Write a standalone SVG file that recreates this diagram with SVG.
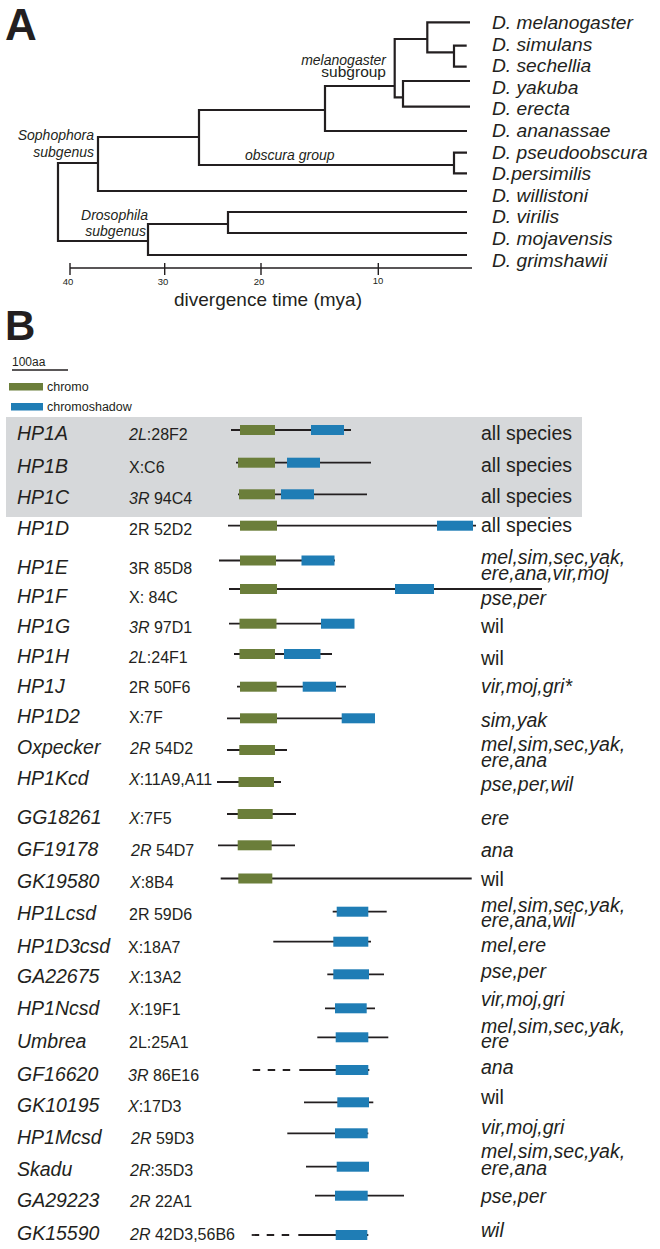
<svg xmlns="http://www.w3.org/2000/svg" width="660" height="1249" viewBox="0 0 660 1249">
<style>
.t{font-family:"Liberation Sans",Arial,sans-serif;fill:#231f20}
.i{font-style:italic}
.big{font-size:44px;font-weight:bold}
.sp{font-size:19.2px;font-style:italic}
.cl{font-size:14px;font-style:italic}
.tk{font-size:9.5px}
.gn{font-size:19.5px;font-style:italic}
.loc{font-size:16px}
.spc{font-size:19.5px}
.spi{font-size:19.5px;font-style:italic}
.tree{stroke:#231f20;stroke-width:2.2;fill:none}
.ln{stroke:#231f20;stroke-width:1.8;fill:none}
.dash{stroke:#231f20;stroke-width:1.8;fill:none;stroke-dasharray:7.5 7.5}
.g{fill:#6b7e3a}
.b{fill:#1f7db5}
</style>
<rect width="660" height="1249" fill="#ffffff"/>

<!-- Panel A -->
<text class="t big" x="5" y="40">A</text>
<g id="tree-connectors">
<path class="tree" d="M98 163H58V241H148"/>
<path class="tree" d="M199 137H98V191H467"/>
<path class="tree" d="M325 110H199V165H454"/>
<path class="tree" d="M394.7 86H325V131H467"/>
<path class="tree" d="M427.3 39H394.7V97.3H403"/>
<path class="tree" d="M470 22.3H427.3V52.3H454"/>
<path class="tree" d="M466.7 45.7H454V66.7H466.7"/>
<path class="tree" d="M470 81H403V106.7H470"/>
<path class="tree" d="M467 152.7H454V173.3H467"/>
<path class="tree" d="M228 224H148V255H467"/>
<path class="tree" d="M467 212H228V233H467"/>
</g>
<g id="tree-labels">
<text class="t cl" x="386" y="65" text-anchor="end">melanogaster</text>
<text class="t" x="386" y="77" text-anchor="end" style="font-size:15.5px">subgroup</text>
<text class="t cl" x="94" y="140" text-anchor="end">Sophophora</text>
<text class="t cl" x="94" y="157" text-anchor="end">subgenus</text>
<text class="t cl" x="245" y="160">obscura group</text>
<text class="t cl" x="148" y="220" text-anchor="end">Drosophila</text>
<text class="t cl" x="146" y="236" text-anchor="end">subgenus</text>
</g>
<g id="species">
<text class="t sp" x="492" y="29">D. melanogaster</text>
<text class="t sp" x="492" y="50.6">D. simulans</text>
<text class="t sp" x="492" y="72.2">D. sechellia</text>
<text class="t sp" x="492" y="93.8">D. yakuba</text>
<text class="t sp" x="492" y="115.4">D. erecta</text>
<text class="t sp" x="492" y="137">D. ananassae</text>
<text class="t sp" x="492" y="158.6">D. pseudoobscura</text>
<text class="t sp" x="492" y="180.2">D.persimilis</text>
<text class="t sp" x="492" y="201.8">D. willistoni</text>
<text class="t sp" x="492" y="223.4">D. virilis</text>
<text class="t sp" x="492" y="245">D. mojavensis</text>
<text class="t sp" x="492" y="266.6">D. grimshawii</text>
</g>
<g id="axis">
<path class="ln" d="M70 268H472M70 263V275M164.7 263V275M261 263V275M378.3 263V275" style="stroke-width:1.4"/>
<text class="t tk" x="68" y="285" text-anchor="middle">40</text>
<text class="t tk" x="163" y="285" text-anchor="middle">30</text>
<text class="t tk" x="259" y="285" text-anchor="middle">20</text>
<text class="t tk" x="378" y="284" text-anchor="middle">10</text>
<text class="t" x="268" y="306" text-anchor="middle" style="font-size:19px">divergence time (mya)</text>
</g>

<!-- Panel B -->
<text class="t big" x="5" y="340" style="font-size:42px">B</text>
<g id="legend">
<text class="t" x="12" y="366" style="font-size:12px">100aa</text>
<path class="ln" d="M12 370H68" style="stroke-width:1.5"/>
<rect class="g" x="9" y="383" width="34" height="7.5"/>
<text class="t" x="47" y="391" style="font-size:12.5px">chromo</text>
<rect class="b" x="11" y="403" width="32" height="7.5"/>
<text class="t" x="47" y="411" style="font-size:12.5px">chromoshadow</text>
</g>
<rect id="conserved-band" x="6" y="417" width="576" height="100" fill="#d6d8da"/>

<g id="row-HP1A">
<text class="t gn" x="17" y="439.5">HP1A</text>
<text class="t loc" x="129" y="439.5"><tspan class="i">2L</tspan>:28F2</text>
<path class="ln" d="M231 430H351"/>
<rect class="g" x="240" y="425" width="35" height="10"/>
<rect class="b" x="311" y="425" width="33" height="10"/>
<text class="t spc" x="481" y="440">all species</text>
</g>
<g id="row-HP1B">
<text class="t gn" x="17" y="473">HP1B</text>
<text class="t loc" x="129" y="473">X:C6</text>
<path class="ln" d="M236 462.7H371"/>
<rect class="g" x="238" y="457.7" width="37" height="10"/>
<rect class="b" x="287" y="457.7" width="33" height="10"/>
<text class="t spc" x="481" y="471.7">all species</text>
</g>
<g id="row-HP1C">
<text class="t gn" x="17" y="504">HP1C</text>
<text class="t loc" x="129" y="504"><tspan class="i">3R</tspan> 94C4</text>
<path class="ln" d="M238 494.3H367"/>
<rect class="g" x="239" y="489.3" width="36" height="10"/>
<rect class="b" x="281" y="489.3" width="33" height="10"/>
<text class="t spc" x="481" y="503">all species</text>
</g>
<g id="row-HP1D">
<text class="t gn" x="17" y="535">HP1D</text>
<text class="t loc" x="129" y="535">2R 52D2</text>
<path class="ln" d="M228 525.7H476"/>
<rect class="g" x="240" y="520.7" width="37" height="10"/>
<rect class="b" x="437" y="520.7" width="36" height="10"/>
<text class="t spc" x="481" y="532">all species</text>
</g>
<g id="row-HP1E">
<text class="t gn" x="17" y="574">HP1E</text>
<text class="t loc" x="129" y="574">3R 85D8</text>
<path class="ln" d="M219 560.5H335"/>
<rect class="g" x="240" y="555.5" width="36" height="10"/>
<rect class="b" x="301.5" y="555.5" width="33" height="10"/>
<text class="t spi" x="481" y="564">mel,sim,sec,yak,<tspan x="481" dy="15.5">ere,ana,vir,moj</tspan></text>
</g>
<g id="row-HP1F">
<text class="t gn" x="17" y="603">HP1F</text>
<text class="t loc" x="129" y="603">X: 84C</text>
<path class="ln" d="M229 589H542"/>
<rect class="g" x="240" y="584" width="37" height="10"/>
<rect class="b" x="395" y="584" width="39" height="10"/>
<text class="t spi" x="481" y="605">pse,per</text>
</g>
<g id="row-HP1G">
<text class="t gn" x="17" y="633">HP1G</text>
<text class="t loc" x="129" y="633"><tspan class="i">3R</tspan> 97D1</text>
<path class="ln" d="M229 623.7H354"/>
<rect class="g" x="239.5" y="618.7" width="37" height="10"/>
<rect class="b" x="321" y="618.7" width="33.5" height="10"/>
<text class="t spc" x="481" y="632.7">wil</text>
</g>
<g id="row-HP1H">
<text class="t gn" x="17" y="663">HP1H</text>
<text class="t loc" x="129" y="663"><tspan class="i">2L</tspan>:24F1</text>
<path class="ln" d="M234 654H332"/>
<rect class="g" x="239.5" y="649" width="35.5" height="10"/>
<rect class="b" x="284" y="649" width="36.5" height="10"/>
<text class="t spc" x="481" y="665">wil</text>
</g>
<g id="row-HP1J">
<text class="t gn" x="17" y="693">HP1J</text>
<text class="t loc" x="129" y="693">2R 50F6</text>
<path class="ln" d="M237 686.7H346"/>
<rect class="g" x="240" y="681.7" width="36.7" height="10"/>
<rect class="b" x="302.7" y="681.7" width="33.3" height="10"/>
<text class="t spi" x="481" y="692.7">vir,moj,gri*</text>
</g>
<g id="row-HP1D2">
<text class="t gn" x="17" y="723">HP1D2</text>
<text class="t loc" x="129" y="723">X:7F</text>
<path class="ln" d="M227 718.3H375"/>
<rect class="g" x="240" y="713.3" width="37" height="10"/>
<rect class="b" x="341.7" y="713.3" width="33.3" height="10"/>
<text class="t spi" x="481" y="727">sim,yak</text>
</g>
<g id="row-Oxpecker">
<text class="t gn" x="17" y="754">Oxpecker</text>
<text class="t loc" x="130" y="754"><tspan class="i">2R</tspan> 54D2</text>
<path class="ln" d="M227 750H287"/>
<rect class="g" x="239.3" y="745" width="35.7" height="10"/>
<text class="t spi" x="481" y="750.5">mel,sim,sec,yak,<tspan x="481" dy="16.5">ere,ana</tspan></text>
</g>
<g id="row-HP1Kcd">
<text class="t gn" x="17" y="785">HP1Kcd</text>
<text class="t loc" x="129" y="785"><tspan class="i">X</tspan>:11A9,A11</text>
<path class="ln" d="M217 782H281"/>
<rect class="g" x="238.5" y="777" width="35.5" height="10"/>
<text class="t spi" x="481" y="790.7">pse,per,wil</text>
</g>
<g id="row-GG18261">
<text class="t gn" x="17" y="824">GG18261</text>
<text class="t loc" x="129" y="824"><tspan class="i">X</tspan>:7F5</text>
<path class="ln" d="M227 814H296"/>
<rect class="g" x="237.7" y="809" width="35" height="10"/>
<text class="t spi" x="481" y="825">ere</text>
</g>
<g id="row-GF19178">
<text class="t gn" x="17" y="856">GF19178</text>
<text class="t loc" x="131" y="856"><tspan class="i">2R</tspan> 54D7</text>
<path class="ln" d="M218 845.3H295"/>
<rect class="g" x="237.7" y="840.3" width="34" height="10"/>
<text class="t spi" x="481" y="857">ana</text>
</g>
<g id="row-GK19580">
<text class="t gn" x="17" y="888">GK19580</text>
<text class="t loc" x="130" y="888"><tspan class="i">X</tspan>:8B4</text>
<path class="ln" d="M220.7 878.5H471.7"/>
<rect class="g" x="238.3" y="873.5" width="34" height="10"/>
<text class="t spc" x="481" y="885.7">wil</text>
</g>
<g id="row-HP1Lcsd">
<text class="t gn" x="17" y="920">HP1Lcsd</text>
<text class="t loc" x="129" y="920">2R 59D6</text>
<path class="ln" d="M332.7 911.7H386.7"/>
<rect class="b" x="336.7" y="906.7" width="31.6" height="10"/>
<text class="t spi" x="481" y="911.5">mel,sim,sec,yak,<tspan x="481" dy="15.5">ere,ana,wil</tspan></text>
</g>
<g id="row-HP1D3csd">
<text class="t gn" x="17" y="952.7">HP1D3csd</text>
<text class="t loc" x="128" y="952.7">X:18A7</text>
<path class="ln" d="M273.3 941.7H371"/>
<rect class="b" x="333.3" y="936.7" width="35" height="10"/>
<text class="t spi" x="481" y="952">mel,ere</text>
</g>
<g id="row-GA22675">
<text class="t gn" x="17" y="983.3">GA22675</text>
<text class="t loc" x="129" y="983.3"><tspan class="i">X</tspan>:13A2</text>
<path class="ln" d="M327.3 974.3H384"/>
<rect class="b" x="333.3" y="969.3" width="35.7" height="10"/>
<text class="t spi" x="481" y="978">pse,per</text>
</g>
<g id="row-HP1Ncsd">
<text class="t gn" x="17" y="1015">HP1Ncsd</text>
<text class="t loc" x="129" y="1015"><tspan class="i">X</tspan>:19F1</text>
<path class="ln" d="M325 1008.3H375"/>
<rect class="b" x="335" y="1003.3" width="31.7" height="10"/>
<text class="t spi" x="481" y="1006">vir,moj,gri</text>
</g>
<g id="row-Umbrea">
<text class="t gn" x="17" y="1048.3">Umbrea</text>
<text class="t loc" x="129" y="1048.3">2L:25A1</text>
<path class="ln" d="M317.3 1037.3H388.3"/>
<rect class="b" x="335.7" y="1032.3" width="32.6" height="10"/>
<text class="t spi" x="481" y="1032.5">mel,sim,sec,yak,<tspan x="481" dy="15.5">ere</tspan></text>
</g>
<g id="row-GF16620">
<text class="t gn" x="17" y="1080.7">GF16620</text>
<text class="t loc" x="128" y="1080.7"><tspan class="i">3R</tspan> 86E16</text>
<path class="dash" d="M252.7 1070H292"/>
<path class="ln" d="M299.3 1070H369.3"/>
<rect class="b" x="335.7" y="1065" width="32.6" height="10"/>
<text class="t spi" x="481" y="1074">ana</text>
</g>
<g id="row-GK10195">
<text class="t gn" x="17" y="1111.7">GK10195</text>
<text class="t loc" x="128" y="1111.7"><tspan class="i">X</tspan>:17D3</text>
<path class="ln" d="M304 1102.3H373.3"/>
<rect class="b" x="337.3" y="1097.3" width="31.7" height="10"/>
<text class="t spc" x="481" y="1104">wil</text>
</g>
<g id="row-HP1Mcsd">
<text class="t gn" x="17" y="1144.3">HP1Mcsd</text>
<text class="t loc" x="131" y="1144.3"><tspan class="i">2R</tspan> 59D3</text>
<path class="ln" d="M287.3 1133.3H368.3"/>
<rect class="b" x="335" y="1128.3" width="32.7" height="10"/>
<text class="t spi" x="481" y="1134">vir,moj,gri</text>
</g>
<g id="row-Skadu">
<text class="t gn" x="17" y="1175.7">Skadu</text>
<text class="t loc" x="130" y="1175.7"><tspan class="i">2R</tspan>:35D3</text>
<path class="ln" d="M306 1166.7H369"/>
<rect class="b" x="336.7" y="1161.7" width="32.3" height="10"/>
<text class="t spi" x="481" y="1158.3">mel,sim,sec,yak,<tspan x="481" dy="16.7">ere,ana</tspan></text>
</g>
<g id="row-GA29223">
<text class="t gn" x="17" y="1207.3">GA29223</text>
<text class="t loc" x="130" y="1207.3"><tspan class="i">2R</tspan> 22A1</text>
<path class="ln" d="M315 1195.7H404"/>
<rect class="b" x="335" y="1190.7" width="32.7" height="10"/>
<text class="t spi" x="481" y="1202.7">pse,per</text>
</g>
<g id="row-GK15590">
<text class="t gn" x="17" y="1240">GK15590</text>
<text class="t loc" x="130" y="1240"><tspan class="i">2R</tspan> 42D3,56B6</text>
<path class="dash" d="M251.7 1235H291"/>
<path class="ln" d="M298.3 1235H368.3"/>
<rect class="b" x="335.7" y="1230" width="31.6" height="10"/>
<text class="t spi" x="481" y="1236.7">wil</text>
</g>
</svg>
